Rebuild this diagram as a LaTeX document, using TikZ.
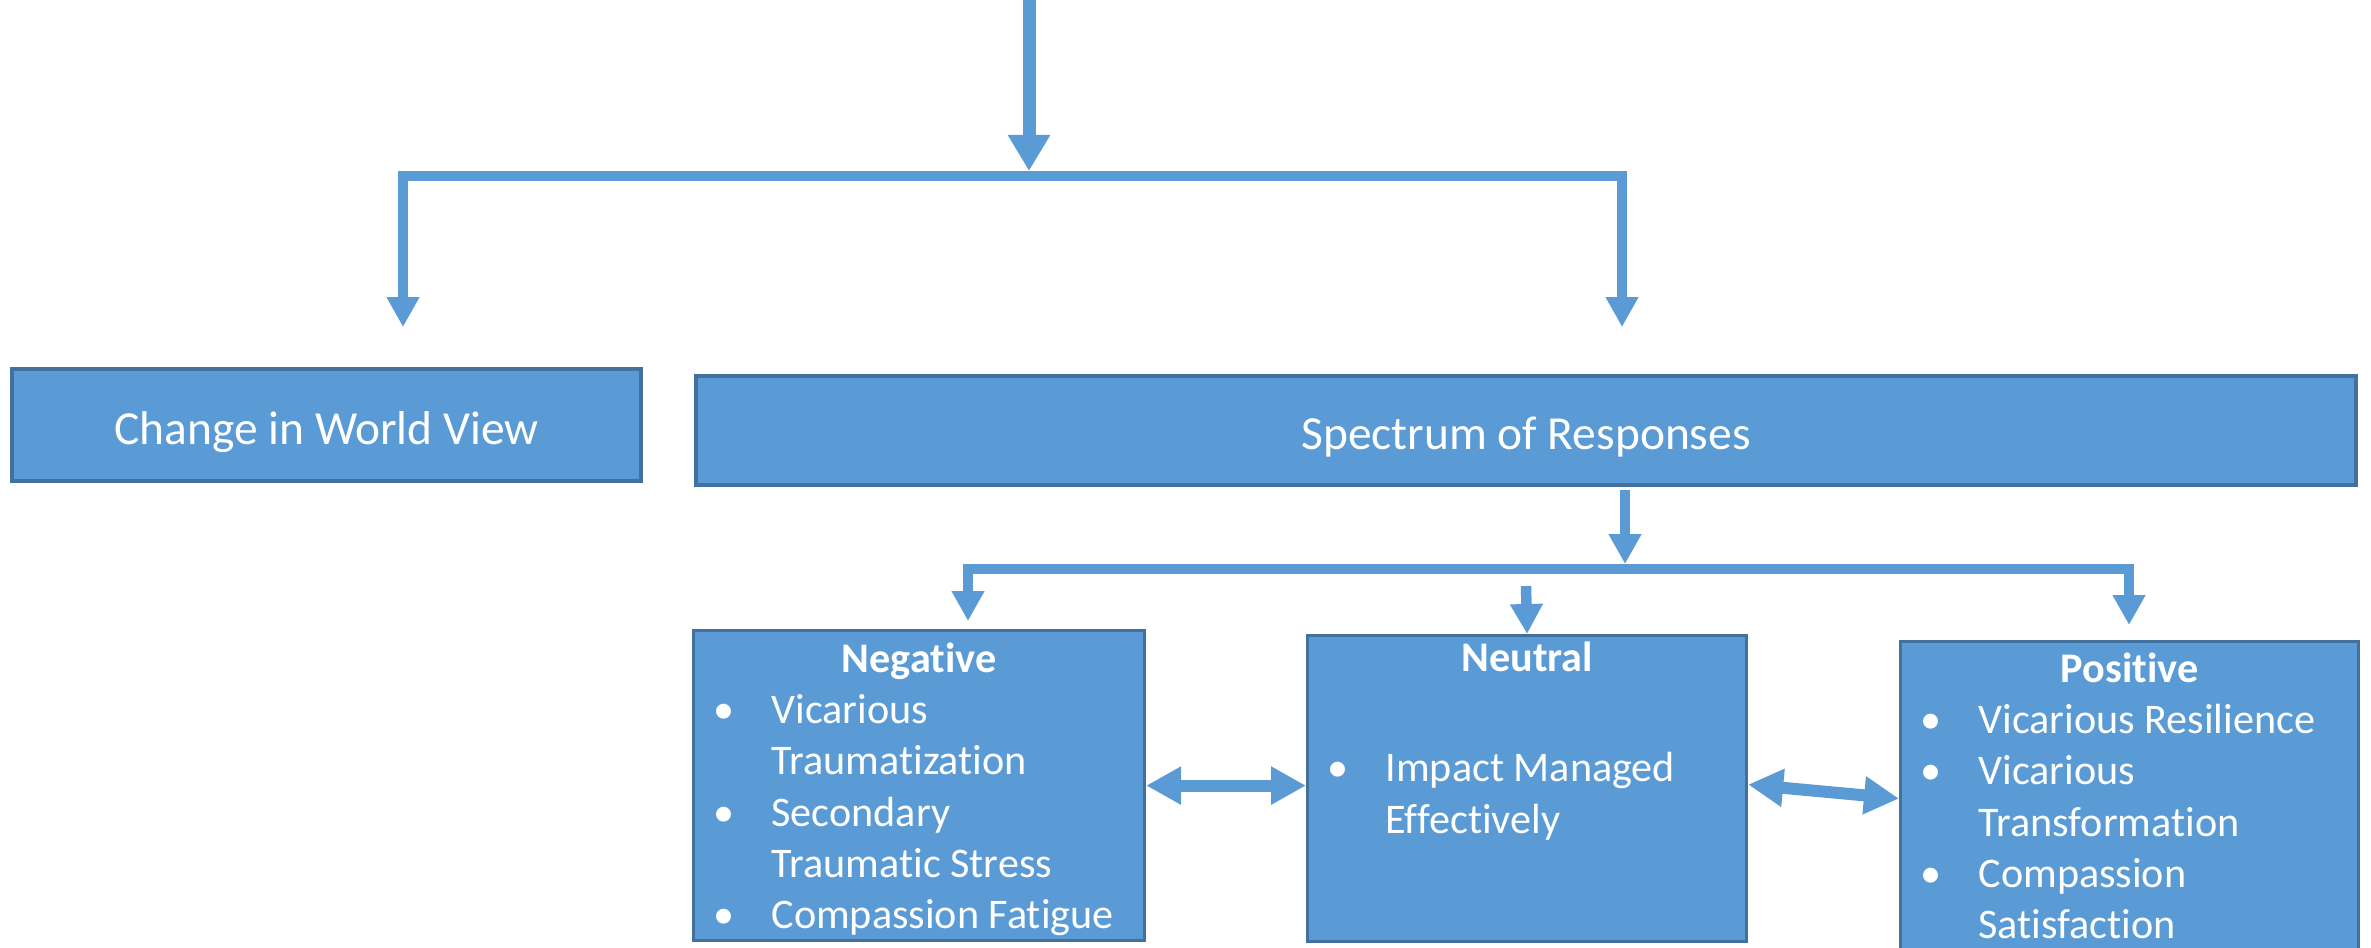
\documentclass[tikz,border=0pt]{standalone}
\usepackage{fontspec}
\setmainfont[Ligatures=NoCommon]{Carlito}
\usetikzlibrary{arrows.meta,positioning}
\definecolor{rsblue}{RGB}{91,155,213}
\definecolor{rsedge}{RGB}{65,113,156}
\newcommand{\rsitem}[1]{\par\noindent\hangindent=0.58cm\hangafter=1\makebox[0.58cm][l]{\textbullet}#1}
\newcommand{\rshead}[1]{{\centering\textbf{#1}\par}}

\begin{document}
\begin{tikzpicture}[
  hbox/.style={draw=rsedge,fill=rsblue,line width=0.9pt,text=white,inner sep=0pt,text height=0.38cm,text depth=0cm,font=\fontsize{13.5}{16}\selectfont},
  lbox/.style={draw=rsedge,fill=rsblue,line width=0.9pt,text=white,inner xsep=0.2cm,inner ysep=0pt,font=\fontsize{12}{14.6}\selectfont,anchor=north west},
  bar/.style={draw=rsblue,line width=0.105cm,line join=miter},
  tip/.style={-{Triangle[length=0.30cm,width=0.31cm]}},
  flow/.style={bar,tip},
  bigflow/.style={draw=rsblue,line width=0.13cm,-{Triangle[length=0.36cm,width=0.40cm]}},
  dflow/.style={draw=rsblue,line width=0.12cm,{Triangle[length=0.35cm,width=0.36cm]}-{Triangle[length=0.35cm,width=0.36cm]}},
]
  \useasboundingbox (0,0) rectangle (23.71,-9.47);
  % top level
  \node[hbox,minimum width=6.29cm,minimum height=1.12cm] (world) at (3.265,-4.25) {Change in World View};
  \node[hbox,minimum width=16.60cm,minimum height=1.09cm] (spec) at (15.26,-4.305) {Spectrum of Responses};
  % responses
  \node[lbox] (neg) at (6.92,-6.29) {\parbox[c][3.10cm][t]{4.11cm}{\vspace*{0.12cm}%
    \rshead{Negative}
    \rsitem{Vicarious\\Traumatization}
    \rsitem{Secondary\\Traumatic Stress}
    \rsitem{Compassion Fatigue}}};
  \node[lbox] (neu) at (13.06,-6.34) {\parbox[c][3.06cm][t]{3.99cm}{\vspace*{0.06cm}%
    \rshead{Neutral}
    \vspace{\dimexpr\baselineskip+0.08cm\relax}
    \rsitem{Impact Managed\\Effectively}}};
  \node[lbox] (pos) at (18.99,-6.40) {\parbox[c][3.30cm][t]{4.18cm}{\vspace*{0.11cm}%
    \rshead{Positive}
    \rsitem{Vicarious Resilience}
    \rsitem{Vicarious\\Transformation}
    \rsitem{Compassion\\Satisfaction}}};
  % connectors
  \coordinate (src) at (10.29,0.1);
  \coordinate (hub) at (10.29,-1.76);
  \coordinate (wtip) at (4.03,-3.27);
  \coordinate (stip) at (16.22,-3.27);
  \draw[bigflow,shorten >=0.05cm] (src) -- (hub);
  \draw[bar,{Triangle[length=0.30cm,width=0.31cm]}-{Triangle[length=0.30cm,width=0.31cm]}]
    (wtip) |- (hub) -| (stip);
  \coordinate (fork) at (16.25,-5.69);
  \coordinate (ntip) at (9.68,-6.21);
  \coordinate (ptip) at (21.29,-6.25);
  \coordinate (mid) at (15.26,-5.86);
  \draw[flow,shorten >=0.05cm] ([yshift=-0.03cm]spec.south -| fork) -- (fork);
  \draw[bar,{Triangle[length=0.30cm,width=0.31cm]}-{Triangle[length=0.30cm,width=0.31cm]}]
    (ntip) |- (fork) -| (ptip);
  \draw[flow] (mid) -- (neu.north);
  \draw[dflow] (neg.east) -- (neu.west |- neg.east);
  \draw[dflow] ([yshift=0.04cm]neu.east) -- ([yshift=0.08cm]pos.west);
\end{tikzpicture}
\end{document}
